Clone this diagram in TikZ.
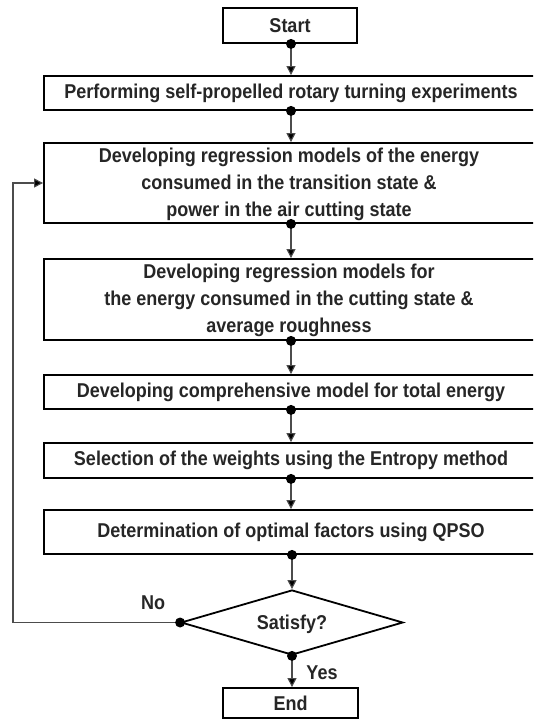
\documentclass[tikz,border=0pt]{standalone}
\usepackage{fontspec}
\setmainfont{Liberation Sans}[FakeStretch=0.9]
\usetikzlibrary{arrows.meta,shapes.geometric}
\begin{document}
\begin{tikzpicture}[x=1pt,y=-1pt,
  box/.style={draw=black,line width=1.8pt,rectangle,inner sep=0pt,align=center,
    font=\fontsize{20}{27}\selectfont\bfseries,text=black!85},
  conn/.style={draw=black!70,line width=1.1pt,-{Triangle[length=9pt,width=9pt,fill=black]}},
  dotc/.style={circle,fill=black,inner sep=0pt,minimum size=10pt},
  lbl/.style={font=\fontsize{20}{22}\selectfont\bfseries,text=black!85}]
\clip (0,0) rectangle (533,720);
\fill[white] (0,0) rectangle (533,720);
\node[box,minimum width=134pt,minimum height=35pt] (start) at (290,25.5) {Start};
\node[box,minimum width=494pt,minimum height=34pt] (b2) at (291,93) {Performing self-propelled rotary turning experiments};
\node[box,minimum width=494pt,minimum height=80pt] (b3) at (291,183) {};
\node[box,draw=none] (t3) at (289,184) {Developing regression models of the energy\\consumed in the transition state \&\\power in the air cutting state};
\node[box,minimum width=494pt,minimum height=81pt] (b4) at (291,299.5) {};
\node[box,draw=none] (t4) at (289,300) {Developing regression models for\\the energy consumed in the cutting state \&\\average roughness};
\node[box,minimum width=494pt,minimum height=34pt] (b5) at (291,392) {Developing comprehensive model for total energy};
\node[box,minimum width=494pt,minimum height=35pt] (b6) at (291,460.5) {Selection of the weights using the Entropy method};
\node[box,minimum width=494pt,minimum height=44pt] (b7) at (291,532) {Determination of optimal factors using QPSO};
\node[box,diamond,aspect=3.4,minimum width=222pt,minimum height=65pt] (d) at (292,622.5) {};
\node[lbl] (dt) at (292,624) {Satisfy?};
\node[box,minimum width=135pt,minimum height=30pt] (end) at (290.5,703) {End};
\node[lbl] (no) at (153,603) {No};
\node[lbl] (yes) at (322,673) {Yes};
\coordinate (s1) at (start.south -| 291,0);
\coordinate (s2) at (b2.south -| 291,0);
\coordinate (s3) at (b3.south -| 291,0);
\coordinate (s4) at (b4.south -| 291,0);
\coordinate (s5) at (b5.south -| 291,0);
\coordinate (s6) at (b6.south -| 291,0);
\coordinate (s7) at (b7.south -| 292,0);
\draw[conn] (s1) -- (b2.north -| s1);
\draw[conn] (s2) -- (b3.north -| s2);
\draw[conn] (s3) -- (b4.north -| s3);
\draw[conn] (s4) -- (b5.north -| s4);
\draw[conn] (s5) -- (b6.north -| s5);
\draw[conn] (s6) -- (b7.north -| s6);
\draw[conn] (s7) -- (d.north);
\draw[conn] (d.south) -- (end.north -| d.south);
\coordinate (lp) at (13,0);
\draw[conn] (d.west) -- (lp |- d.west) -- (lp |- b3.west) -- (b3.west);
\foreach \p in {s1,s2,s3,s4,s5,s6,s7} \node[dotc] at (\p) {};
\node[dotc] at (d.west) {};
\node[dotc] at (d.south) {};
\end{tikzpicture}
\end{document}
